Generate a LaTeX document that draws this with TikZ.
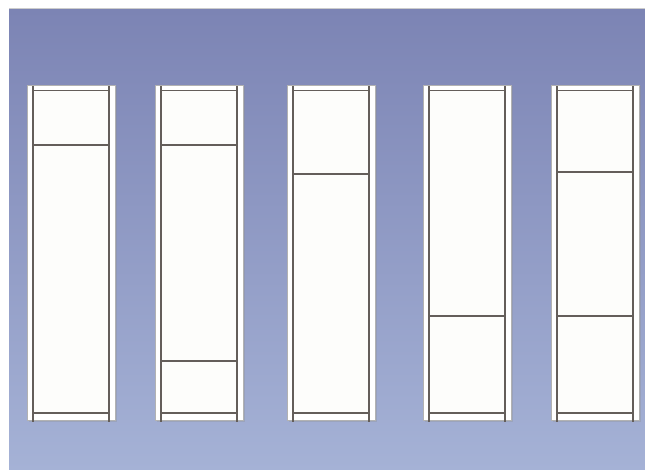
\documentclass[tikz,border=0pt]{standalone}
\definecolor{bgtop}{RGB}{124,132,180}
\definecolor{bgbot}{RGB}{165,178,214}
\definecolor{paper}{RGB}{253,253,251}
\definecolor{lineclr}{RGB}{100,94,90}
\tikzset{
  frameshape/.style={fill=white, draw=black!30, line width=0.6pt},
  framesh/.style={fill=black!45, opacity=0.3},
  sash/.style={draw=lineclr, line width=1.05pt},
}
\newcommand\drawpanel[2]{%
  \fill[framesh] (#1+1.5,86.5) rectangle (#1+89.5,421.5);
  \path[frameshape] (#1,85) rectangle (#1+88,420);
  \fill[paper] (#1+6,91) rectangle (#1+82,413);
  \draw[sash] (#1+6,86) -- (#1+6,422);
  \draw[sash] (#1+82,86) -- (#1+82,422);
  \draw[sash] (#1+6,90.5) -- (#1+82,90.5);
  \draw[sash] (#1+6,413) -- (#1+82,413);
  \foreach \yy in {#2} {\draw[sash] (#1+6,\yy) -- (#1+82,\yy);}
}
\begin{document}
\begin{tikzpicture}[x=1pt,y=-1pt]
\useasboundingbox (0,0) rectangle (645,470);
\fill[white] (0,0) rectangle (645,470);
\shade[top color=bgtop, bottom color=bgbot] (9,9) rectangle (645,470);
\draw[black!20, line width=0.8pt] (9,8.6) -- (645,8.6);
\drawpanel{27}{145}
\drawpanel{155}{145,361}
\drawpanel{287}{174}
\drawpanel{423}{316}
\drawpanel{551}{172,316}
\end{tikzpicture}
\end{document}
